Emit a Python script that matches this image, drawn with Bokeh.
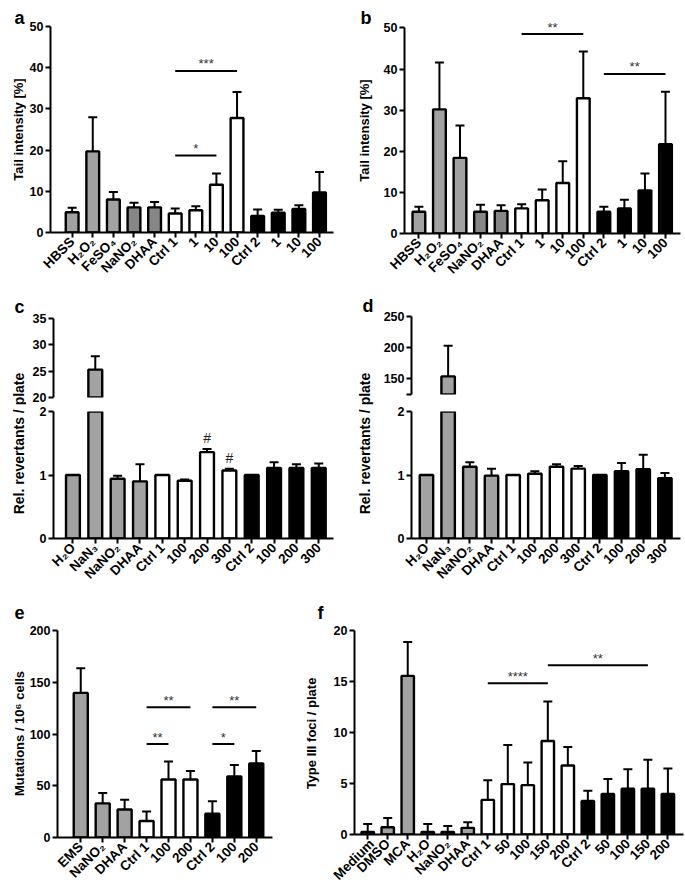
import math
from bokeh.plotting import figure
from bokeh.models import Range1d, FixedTicker, Whisker, TeeHead, ColumnDataSource, Label
from bokeh.layouts import row, column
from bokeh.embed import file_html
from bokeh.resources import INLINE
from bokeh.core.properties import value

FONT = "Liberation Sans"
LG = "#a2a2a2"
DG = "#868686"
WH = "#ffffff"
BK = "#000000"
TICK_FS = "12.5px"
XTICK_FS = "13.5px"

# ---------------- data ----------------
# panel a: comet assay (tail intensity %)
a_labels = ["HBSS", "H₂O₂", "FeSO₄", "NaNO₂", "DHAA", "Ctrl 1", "1", "10", "100", "Ctrl 2", "1", "10", "100"]
a_mean = [4.9, 19.7, 8.0, 6.1, 6.1, 4.6, 5.4, 11.6, 27.8, 4.0, 4.8, 5.7, 9.7]
a_sd = [1.1, 8.3, 1.8, 1.1, 1.3, 1.2, 1.0, 2.7, 6.3, 1.6, 0.7, 0.9, 5.0]
a_colors = [LG, LG, LG, DG, DG, WH, WH, WH, WH, BK, BK, BK, BK]
a_sig_from = [5, 5]
a_sig_to = [8, 7]
a_sig_y = [39.2, 18.7]
a_sig_txt = ["***", "*"]

# panel b
b_labels = a_labels
b_mean = [5.3, 30.2, 18.4, 5.3, 5.5, 6.1, 8.1, 12.3, 32.9, 5.3, 6.1, 10.5, 21.7]
b_sd = [1.2, 11.4, 7.9, 1.7, 1.4, 1.0, 2.6, 5.3, 11.4, 1.2, 2.1, 4.1, 12.8]
b_colors = a_colors
b_sig_from = [5, 9]
b_sig_to = [8, 12]
b_sig_y = [48.5, 38.8]
b_sig_txt = ["**", "**"]

# panel c: Ames test (relative revertants / plate)
c_labels = ["H₂O", "NaN₃", "NaNO₂", "DHAA", "Ctrl 1", "100", "200", "300", "Ctrl 2", "100", "200", "300"]
c_mean = [1.0, 25.3, 0.94, 0.90, 1.0, 0.91, 1.36, 1.07, 1.0, 1.11, 1.11, 1.11]
c_sd = [0.0, 2.55, 0.05, 0.27, 0.0, 0.02, 0.05, 0.03, 0.0, 0.09, 0.06, 0.07]
c_colors = [LG, LG, LG, LG, WH, WH, WH, WH, BK, BK, BK, BK]
c_hash_idx = [6, 7]

# panel d
d_labels = c_labels
d_mean = [1.0, 154.0, 1.13, 0.99, 1.0, 1.02, 1.13, 1.10, 1.0, 1.06, 1.09, 0.95]
d_sd = [0.0, 49.0, 0.07, 0.11, 0.0, 0.04, 0.04, 0.04, 0.0, 0.13, 0.23, 0.08]
d_colors = c_colors

# panel e: mutations / 10^6 cells
e_labels = ["EMS", "NaNO₂", "DHAA", "Ctrl 1", "100", "200", "Ctrl 2", "100", "200"]
e_mean = [139.7, 33.0, 27.0, 16.0, 56.0, 56.0, 23.0, 59.0, 71.6]
e_sd = [23.8, 9.9, 9.5, 9.2, 17.5, 8.2, 12.1, 11.0, 11.9]
e_colors = [LG, LG, LG, WH, WH, WH, BK, BK, BK]
e_sig_from = [3, 3, 6, 6]
e_sig_to = [5, 4, 8, 7]
e_sig_y = [125.8, 90.3, 125.8, 90.3]
e_sig_txt = ["**", "**", "**", "*"]

# panel f: type III foci / plate
f_labels = ["Medium", "DMSO", "MCA", "H₂O", "NaNO₂", "DHAA", "Ctrl 1", "50", "100", "150", "200",
            "Ctrl 2", "50", "100", "150", "200"]
f_mean = [0.26, 0.71, 15.55, 0.26, 0.26, 0.65, 3.39, 4.94, 4.84, 9.16, 6.77, 3.29, 3.97, 4.48, 4.48, 3.97]
f_sd = [0.77, 0.90, 3.32, 0.77, 0.58, 0.54, 1.93, 3.83, 2.22, 3.87, 1.81, 1.00, 1.48, 1.91, 2.84, 2.51]
f_colors = [LG, LG, LG, LG, LG, LG, WH, WH, WH, WH, WH, BK, BK, BK, BK, BK]
f_sig_from = [6, 9]
f_sig_to = [9, 14]
f_sig_y = [14.84, 16.6]
f_sig_txt = ["****", "**"]


# ---------------- helpers ----------------
def style_axis(ax):
    ax.axis_line_width = 2
    ax.axis_line_color = "black"
    ax.major_tick_line_width = 2
    ax.major_tick_line_color = "black"
    ax.major_tick_out = 5
    ax.major_tick_in = 0
    ax.minor_tick_line_color = None
    ax.major_label_text_font = FONT
    ax.major_label_text_font_style = "bold"
    ax.major_label_text_font_size = TICK_FS
    ax.major_label_text_color = "black"
    ax.major_label_standoff = 2


def make_fig(w, h, xr, yr, left, right, top, bottom):
    p = figure(width=w, height=h, x_range=Range1d(*xr), y_range=Range1d(*yr),
               output_backend="svg", toolbar_location=None,
               min_border_left=left, min_border_right=right,
               min_border_top=top, min_border_bottom=bottom)
    p.outline_line_color = None
    p.xgrid.visible = False
    p.ygrid.visible = False
    for ax in p.axis:
        style_axis(ax)
    return p


def add_bars(p, labels, mean, sd, colors, bw=0.62, show_xaxis=True, ymin=None):
    n = len(labels)
    idx = [i for i in range(n) if ymin is None or mean[i] > ymin]
    src = ColumnDataSource(dict(
        x=idx,
        top=[mean[i] for i in idx],
        upper=[mean[i] + sd[i] for i in idx],
        color=[colors[i] for i in idx],
    ))
    p.vbar(x="x", top="top", bottom=0, width=bw, fill_color="color",
           line_color="black", line_width=2.4, source=src)
    p.add_layout(Whisker(source=src, base="x", lower="top", upper="upper", dimension="height",
                         line_color="black", line_width=2,
                         upper_head=TeeHead(size=9, line_width=2, line_color="black"),
                         lower_head=None))
    if show_xaxis:
        p.xaxis.ticker = FixedTicker(ticks=list(range(n)))
        p.xaxis.major_label_overrides = {i: lab for i, lab in enumerate(labels)}
        p.xaxis.major_label_orientation = math.pi / 4
        p.xaxis.major_label_text_font_size = XTICK_FS
    else:
        p.xaxis.visible = False
    return src


def add_sig(p, x0, x1, y, txt):
    xm = [(a + b) / 2 for a, b in zip(x0, x1)]
    src = ColumnDataSource(dict(x0=x0, x1=x1, y=y, xm=xm, txt=txt))
    p.segment(x0="x0", y0="y", x1="x1", y1="y", line_width=2, line_color="black", source=src)
    p.text(x="xm", y="y", text="txt", text_align="center", text_baseline="alphabetic",
           y_offset=-7, text_font=value(FONT), text_font_size="13px", text_color="#333333",
           source=src)


def yticks(p, ticks, bounds):
    p.yaxis.ticker = FixedTicker(ticks=ticks)
    p.yaxis.bounds = bounds


def strip(w, h, let, lx, ly, ylab, yx, yy, fs="13px"):
    """Narrow figure holding the panel letter and the rotated y-axis title.
    Offsets are pixels from the strip's bottom-left corner."""
    p = figure(width=w, height=h, x_range=Range1d(0, 1), y_range=Range1d(0, 1),
               output_backend="svg", toolbar_location=None, min_border=0,
               x_axis_type=None, y_axis_type=None)
    p.outline_line_color = None
    p.grid.visible = False
    p.add_layout(Label(x=0, y=0, x_offset=lx, y_offset=ly, text=let, text_font=FONT,
                       text_font_style="bold", text_font_size="18px", text_color="black",
                       text_align="left", text_baseline="alphabetic"))
    p.add_layout(Label(x=0, y=0, x_offset=yx, y_offset=yy, text=ylab, angle=math.pi / 2,
                       text_font=FONT, text_font_style="bold", text_font_size=fs,
                       text_color="black", text_align="center", text_baseline="middle"))
    return column(p)


def solo(p):
    # wrap a plot so that it is not frame-aligned with its row neighbours
    return column(p)


# ---------------- row 1 : panels a, b ----------------
sa = strip(26, 290, "a", 14, 273, "Tail intensity [%]", 18, 161)
pa = make_fig(324, 290, (-1.05, 12.68), (0, 50), 24, 17, 26, 58)
add_bars(pa, a_labels, a_mean, a_sd, a_colors)
add_sig(pa, a_sig_from, a_sig_to, a_sig_y, a_sig_txt)
yticks(pa, [0, 10, 20, 30, 40, 50], (0, 50))

sb = strip(30, 290, "b", 10, 273, "Tail intensity [%]", 14, 160)
pb = make_fig(305, 290, (-0.70, 12.73), (0, 54), 24, 5, 11, 57)
add_bars(pb, b_labels, b_mean, b_sd, b_colors)
add_sig(pb, b_sig_from, b_sig_to, b_sig_y, b_sig_txt)
yticks(pb, [0, 10, 20, 30, 40, 50], (0, 50))

# ---------------- row 2 : panels c, d (broken y axes) ----------------
sc = strip(26, 300, "c", 14, 284, "Rel. revertants / plate", 18, 147, fs="14px")
cu = make_fig(324, 114, (-0.87, 11.66), (20, 35), 27, 17, 28, 7)
add_bars(cu, c_labels, c_mean, c_sd, c_colors, show_xaxis=False, ymin=20)
yticks(cu, [20, 25, 30, 35], (20, 35))
cb = make_fig(324, 186, (-0.87, 11.66), (0, 2), 27, 17, 7, 52)
add_bars(cb, c_labels, c_mean, c_sd, c_colors)
yticks(cb, [0, 1, 2], (0, 2))
hx = list(c_hash_idx)
hy = [c_mean[i] + c_sd[i] for i in c_hash_idx]
cb.text(x=hx, y=hy, text=["#"] * len(hx), text_align="center", text_baseline="alphabetic",
        y_offset=-11, text_font=value(FONT), text_font_size="14px", text_color="#222222")

sd_ = strip(30, 300, "d", 12, 285, "Rel. revertants / plate", 14, 147, fs="14px")
du = make_fig(305, 114, (-0.69, 11.72), (125, 250), 24, 5, 26, 10)
add_bars(du, d_labels, d_mean, d_sd, d_colors, show_xaxis=False, ymin=125)
yticks(du, [125, 150, 200, 250], (125, 250))
du.yaxis.major_label_overrides = {125: ""}
db = make_fig(305, 186, (-0.69, 11.72), (0, 2), 24, 5, 7, 52)
add_bars(db, d_labels, d_mean, d_sd, d_colors)
yticks(db, [0, 1, 2], (0, 2))

# ---------------- row 3 : panels e, f ----------------
se = strip(26, 301, "e", 14, 279, "Mutations / 10⁶ cells", 19, 158)
pe = make_fig(274, 301, (-1.06, 8.74), (0, 200), 24, 28, 40, 54)
add_bars(pe, e_labels, e_mean, e_sd, e_colors, bw=0.64)
add_sig(pe, e_sig_from, e_sig_to, e_sig_y, e_sig_txt)
yticks(pe, [0, 50, 100, 150, 200], (0, 200))

sf = strip(30, 301, "f", 17, 279, "Type III foci / plate", 11, 158)
pf = make_fig(355, 301, (-0.66, 15.78), (0, 20), 23, 2, 40, 54)
add_bars(pf, f_labels, f_mean, f_sd, f_colors)
add_sig(pf, f_sig_from, f_sig_to, f_sig_y, f_sig_txt)
yticks(pf, [0, 5, 10, 15, 20], (0, 20))

layout = column(
    row(sa, solo(pa), sb, solo(pb)),
    row(sc, column(cu, cb), sd_, column(du, db)),
    row(se, solo(pe), sf, solo(pf)),
)

open("out.html", "w").write(file_html(layout, INLINE))
